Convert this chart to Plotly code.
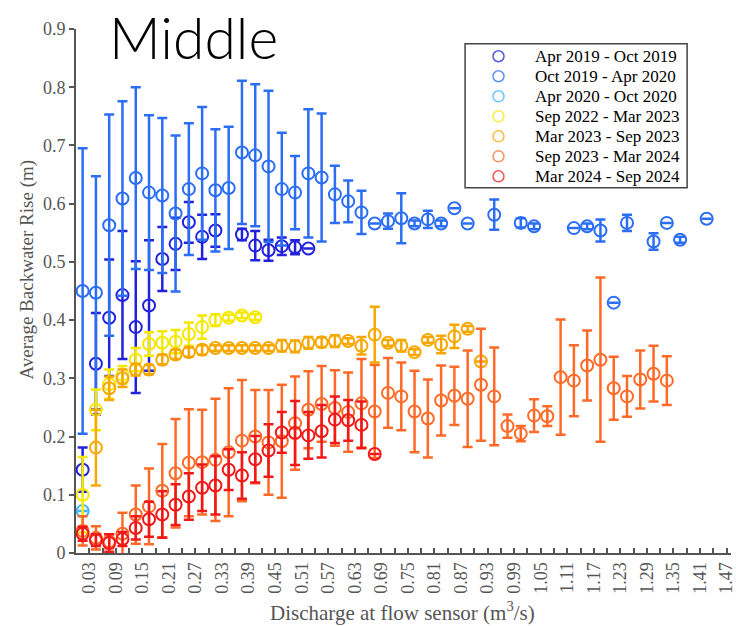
import plotly.graph_objects as go

# ---- data: average backwater rise per discharge bin (bin centres, m^3/s) ----
x_apr19 = [0.015, 0.045, 0.075, 0.105, 0.135, 0.165, 0.195, 0.225, 0.255, 0.285,
           0.315, 0.375, 0.405, 0.435, 0.465, 0.495, 0.525]
y_apr19 = [0.143, 0.325, 0.404, 0.443, 0.388, 0.425, 0.505, 0.531, 0.568, 0.543,
           0.554, 0.547, 0.528, 0.520, 0.527, 0.525, 0.523]
e_apr19 = [0.038, 0.087, 0.100, 0.110, 0.113, 0.112, 0.055, 0.045, 0.035, 0.038,
           0.028, 0.010, 0.025, 0.018, 0.015, 0.012, 0.0]

x_oct19 = [0.015, 0.045, 0.075, 0.105, 0.135, 0.165, 0.195, 0.225, 0.255, 0.285,
           0.315, 0.345, 0.375, 0.405, 0.435, 0.465, 0.495, 0.525, 0.555, 0.585,
           0.615, 0.645, 0.675, 0.705, 0.735, 0.765, 0.795, 0.825, 0.855, 0.885,
           0.945, 1.005, 1.035, 1.125, 1.155, 1.185, 1.215, 1.245, 1.305, 1.335,
           1.365, 1.425]
y_oct19 = [0.450, 0.447, 0.563, 0.609, 0.644, 0.619, 0.614, 0.583, 0.625, 0.652,
           0.623, 0.627, 0.688, 0.683, 0.664, 0.625, 0.619, 0.652, 0.645, 0.616,
           0.604, 0.585, 0.566, 0.570, 0.575, 0.566, 0.573, 0.566, 0.592, 0.566,
           0.581, 0.567, 0.561, 0.558, 0.561, 0.554, 0.430, 0.567, 0.535, 0.567,
           0.538, 0.574]
e_oct19 = [0.245, 0.200, 0.190, 0.167, 0.156, 0.133, 0.133, 0.134, 0.113, 0.114,
           0.105, 0.105, 0.123, 0.122, 0.130, 0.097, 0.063, 0.110, 0.110, 0.049,
           0.036, 0.037, 0.0, 0.013, 0.043, 0.005, 0.015, 0.005, 0.0, 0.0,
           0.026, 0.008, 0.005, 0.0, 0.005, 0.019, 0.0, 0.014, 0.014, 0.0,
           0.005, 0.0]

x_apr20 = [0.015]
y_apr20 = [0.072]
e_apr20 = [0.0]

x_sep22 = [0.015, 0.045, 0.075, 0.105, 0.135, 0.165, 0.195, 0.225, 0.255, 0.285,
           0.315, 0.345, 0.375, 0.405]
y_sep22 = [0.100, 0.246, 0.290, 0.306, 0.332, 0.359, 0.361, 0.363, 0.376, 0.388,
           0.400, 0.404, 0.408, 0.405]
e_sep22 = [0.065, 0.035, 0.025, 0.015, 0.020, 0.020, 0.020, 0.020, 0.020, 0.020,
           0.010, 0.005, 0.005, 0.005]

x_mar23 = [0.045, 0.075, 0.105, 0.135, 0.165, 0.195, 0.225, 0.255, 0.285, 0.315,
           0.345, 0.375, 0.405, 0.435, 0.465, 0.495, 0.525, 0.555, 0.585, 0.615,
           0.645, 0.675, 0.705, 0.735, 0.765, 0.795, 0.825, 0.855, 0.885, 0.915]
y_mar23 = [0.181, 0.283, 0.300, 0.315, 0.315, 0.332, 0.341, 0.345, 0.349, 0.352,
           0.352, 0.352, 0.352, 0.352, 0.356, 0.355, 0.361, 0.362, 0.364, 0.364,
           0.356, 0.375, 0.361, 0.356, 0.345, 0.366, 0.358, 0.372, 0.385, 0.329]
e_mar23 = [0.065, 0.020, 0.015, 0.010, 0.008, 0.008, 0.008, 0.008, 0.008, 0.005,
           0.005, 0.005, 0.005, 0.005, 0.010, 0.010, 0.010, 0.008, 0.010, 0.005,
           0.015, 0.048, 0.005, 0.010, 0.005, 0.005, 0.015, 0.020, 0.005, 0.0]

x_sep23 = [0.015, 0.045, 0.075, 0.105, 0.135, 0.165, 0.195, 0.225, 0.255, 0.285,
           0.315, 0.345, 0.375, 0.405, 0.435, 0.465, 0.495, 0.525, 0.555, 0.585,
           0.615, 0.645, 0.675, 0.705, 0.735, 0.765, 0.795, 0.825, 0.855, 0.885,
           0.915, 0.945, 0.975, 1.005, 1.035, 1.065, 1.095, 1.125, 1.155, 1.185,
           1.215, 1.245, 1.275, 1.305, 1.335]
y_sep23 = [0.038, 0.026, 0.020, 0.033, 0.066, 0.080, 0.107, 0.137, 0.155, 0.156,
           0.160, 0.173, 0.193, 0.200, 0.190, 0.192, 0.223, 0.246, 0.256, 0.249,
           0.242, 0.257, 0.243, 0.275, 0.269, 0.243, 0.231, 0.262, 0.270, 0.265,
           0.289, 0.269, 0.218, 0.205, 0.236, 0.235, 0.302, 0.296, 0.322, 0.332,
           0.283, 0.269, 0.298, 0.308, 0.296]
e_sep23 = [0.025, 0.020, 0.012, 0.036, 0.050, 0.065, 0.080, 0.093, 0.092, 0.090,
           0.105, 0.110, 0.104, 0.080, 0.090, 0.097, 0.080, 0.066, 0.065, 0.065,
           0.068, 0.076, 0.080, 0.060, 0.058, 0.070, 0.067, 0.060, 0.050, 0.083,
           0.096, 0.084, 0.020, 0.013, 0.028, 0.017, 0.099, 0.061, 0.060, 0.141,
           0.054, 0.035, 0.050, 0.048, 0.042]

x_mar24 = [0.015, 0.045, 0.075, 0.105, 0.135, 0.165, 0.195, 0.225, 0.255, 0.285,
           0.315, 0.345, 0.375, 0.405, 0.435, 0.465, 0.495, 0.525, 0.555, 0.585,
           0.615, 0.645, 0.675]
y_mar24 = [0.033, 0.022, 0.017, 0.024, 0.043, 0.058, 0.066, 0.083, 0.097, 0.112,
           0.116, 0.143, 0.133, 0.161, 0.176, 0.207, 0.206, 0.202, 0.209, 0.229,
           0.228, 0.220, 0.170]
e_mar24 = [0.012, 0.010, 0.015, 0.012, 0.020, 0.030, 0.040, 0.035, 0.040, 0.040,
           0.050, 0.035, 0.040, 0.040, 0.045, 0.035, 0.055, 0.040, 0.045, 0.040,
           0.035, 0.040, 0.0]

series_names = ["Apr 2019 - Oct 2019", "Oct 2019 - Apr 2020", "Apr 2020 - Oct 2020",
                "Sep 2022 - Mar 2023", "Mar 2023 - Sep 2023", "Sep 2023 - Mar 2024",
                "Mar 2024 - Sep 2024"]
series_colors = ["#2222dd", "#2b6ef5", "#3cb4ff", "#f5e800", "#f7a800", "#ff6a28", "#f01818"]

x_tick_labels = ["0.03", "0.09", "0.15", "0.21", "0.27", "0.33", "0.39", "0.45",
                 "0.51", "0.57", "0.63", "0.69", "0.75", "0.81", "0.87", "0.93",
                 "0.99", "1.05", "1.11", "1.17", "1.23", "1.29", "1.35", "1.41", "1.47"]

series_x = [x_apr19, x_oct19, x_apr20, x_sep22, x_mar23, x_sep23, x_mar24]
series_y = [y_apr19, y_oct19, y_apr20, y_sep22, y_mar23, y_sep23, y_mar24]
series_e = [e_apr19, e_oct19, e_apr20, e_sep22, e_mar23, e_sep23, e_mar24]

SERIF = "Liberation Serif"
AXIS_GREY = "#555555"

fig = go.Figure()
for name, col, xs, ys, es in zip(series_names, series_colors, series_x, series_y, series_e):
    fig.add_trace(go.Scatter(
        x=xs, y=ys, name=name, mode="markers", showlegend=False,
        marker=dict(symbol="circle-open", size=12, color=col, line=dict(width=2, color=col)),
        error_y=dict(type="data", array=es, visible=True, color=col, thickness=2.5, width=5),
    ))

# ---- boxed key, laid out on an overlay axis spanning the plot area (0..1) ----
key_left, key_right, key_top, key_bottom = 0.594, 0.933, 0.972, 0.697
key_mark_x = 0.645
key_text_x = 0.698
key_row0 = 0.948
key_step = 0.0382
key_rows = [key_row0 - i * key_step for i in range(len(series_names))]

fig.add_trace(go.Scatter(
    x=[key_mark_x] * len(series_names), y=key_rows, xaxis="x2", yaxis="y2",
    mode="markers", showlegend=False, hoverinfo="skip", opacity=0.75,
    marker=dict(symbol="circle-open", size=11, color=series_colors,
                line=dict(width=1.5, color=series_colors)),
))

key_labels = [
    dict(text=name, xref="paper", yref="paper", x=key_text_x, y=yr,
         xanchor="left", yanchor="middle", showarrow=False,
         font=dict(family=SERIF, size=17, color="black"))
    for name, yr in zip(series_names, key_rows)
]

tick_vals = [float(t) for t in x_tick_labels]

fig.update_layout(
    width=736, height=626,
    margin=dict(l=76, r=0, t=29, b=73),
    paper_bgcolor="white", plot_bgcolor="white",
    showlegend=False,
    xaxis=dict(
        range=[0, 1.48], showgrid=False, zeroline=False,
        showline=True, linecolor=AXIS_GREY, linewidth=2,
        tickmode="array", tickvals=tick_vals, ticktext=x_tick_labels,
        ticks="inside", ticklen=5, tickwidth=1.5, tickcolor=AXIS_GREY,
        tickangle=-90, ticklabeloverflow="allow",
        tickfont=dict(family=SERIF, size=18, color=AXIS_GREY),
        minor=dict(dtick=0.06, tick0=0, ticks="inside", ticklen=5, tickwidth=1.5,
                   tickcolor=AXIS_GREY, showgrid=False),
    ),
    yaxis=dict(
        range=[0, 0.9], dtick=0.1, showgrid=False, zeroline=False,
        showline=True, linecolor=AXIS_GREY, linewidth=2,
        ticks="outside", ticklen=5, tickwidth=1.5, tickcolor=AXIS_GREY,
        tickfont=dict(family=SERIF, size=18, color=AXIS_GREY),
    ),
    xaxis2=dict(range=[0, 1], overlaying="x", anchor="y2", visible=False, fixedrange=True),
    yaxis2=dict(range=[0, 1], overlaying="y", anchor="x2", visible=False, fixedrange=True),
    shapes=[
        dict(type="rect", xref="paper", yref="paper",
             x0=key_left, x1=key_right, y0=key_bottom, y1=key_top,
             line=dict(color="#444444", width=1.5), fillcolor="white", layer="below"),
    ],
    annotations=[
        dict(text="Middle", xref="paper", yref="paper", x=0.048, y=1.054,
             xanchor="left", yanchor="top", showarrow=False,
             font=dict(family="Lato", size=57, color="black", weight=300)),
        dict(text="Discharge at flow sensor (m<sup>3</sup>/s)", xref="paper", yref="paper",
             x=0.498, y=-0.112, xanchor="center", yanchor="middle", showarrow=False,
             font=dict(family=SERIF, size=21, color=AXIS_GREY)),
        dict(text="Average Backwater Rise (m)", xref="paper", yref="paper",
             x=-0.074, y=0.54, xanchor="center", yanchor="middle", showarrow=False,
             textangle=-90, font=dict(family=SERIF, size=19, color=AXIS_GREY)),
    ] + key_labels,
)

fig.write_html("out.html")
